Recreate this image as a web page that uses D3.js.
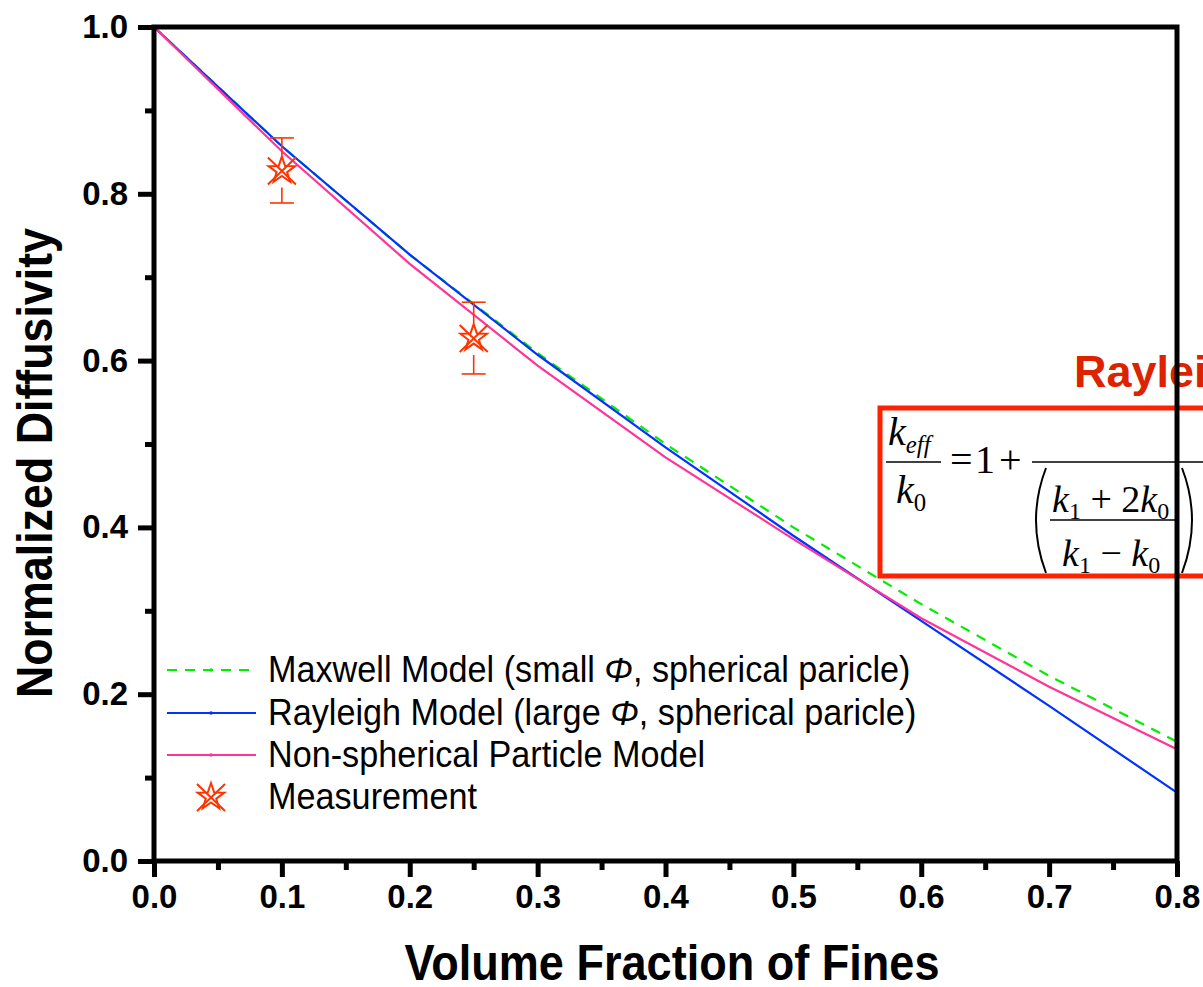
<!DOCTYPE html>
<html>
<head>
<meta charset="utf-8">
<script src="https://cdn.jsdelivr.net/npm/d3@7"></script>
<style>
  body { margin: 0; background: #fff; }
  svg { display: block; }
</style>
</head>
<body>
<div id="chart"></div>
<script>
// datos
const phi = [0, 0.1, 0.2, 0.3, 0.4, 0.5, 0.6, 0.7, 0.8];
const maxwell = [1.0, 0.857, 0.727, 0.609, 0.500, 0.400, 0.308, 0.222, 0.143];
const rayleigh = [1.0, 0.857, 0.727, 0.607, 0.496, 0.390, 0.288, 0.186, 0.082];
const nonSpherical = [1.0, 0.851, 0.716, 0.594, 0.484, 0.386, 0.291, 0.209, 0.134];
const measPhi = [0.1, 0.25];
const measVal = [0.828, 0.627];
const measErr = [0.039, 0.043];
const xTicks = [0, 0.1, 0.2, 0.3, 0.4, 0.5, 0.6, 0.7, 0.8];
const yTicks = [0, 0.2, 0.4, 0.6, 0.8, 1.0];
const legendLabels = [
  ["Maxwell Model (small ", "Φ", ", spherical paricle)"],
  ["Rayleigh Model (large ", "Φ", ", spherical paricle)"],
  ["Non-spherical Particle Model"],
  ["Measurement"]
];

const width = 1203, height = 987;
const svg = d3.select("#chart").append("svg")
  .attr("width", width).attr("height", height);

const x = d3.scaleLinear().domain([0, 0.8]).range([154, 1177]);
const y = d3.scaleLinear().domain([0, 1]).range([861, 27]);

const line = d3.line().x(d => x(d[0])).y(d => y(d[1]));
const sans = "'Liberation Sans', Arial, sans-serif";

// ecuacion en recuadro rojo (debajo del marco)
const eq = svg.append("g").attr("font-family", "'Liberation Serif', 'Times New Roman', serif").attr("fill", "#000");
eq.append("text").attr("x", 1074).attr("y", 387)
  .attr("font-family", sans).attr("font-weight", "bold")
  .attr("font-size", 45).attr("fill", "#dd2200").text("Rayleigh Model");
eq.append("rect").attr("x", 880).attr("y", 408).attr("width", 400).attr("height", 168)
  .attr("fill", "none").attr("stroke", "#ff2200").attr("stroke-width", 5);

function kSub(g, xx, yy, sub, size) {
  const t = g.append("text").attr("x", xx).attr("y", yy).attr("font-size", size);
  t.append("tspan").attr("font-style", "italic").text("k");
  t.append("tspan").attr("font-size", size * 0.62).attr("dy", size * 0.2)
    .attr("font-style", sub === "eff" ? "italic" : "normal").text(sub);
  return t;
}
kSub(eq, 888, 445, "eff", 40);
eq.append("line").attr("x1", 886).attr("x2", 941).attr("y1", 462).attr("y2", 462).attr("stroke", "#000").attr("stroke-width", 1.5);
kSub(eq, 896, 503, "0", 40);
const eqMid = eq.append("text").attr("y", 473).attr("font-size", 40);
eqMid.append("tspan").attr("x", 950).text("=");
eqMid.append("tspan").attr("x", 975).text("1");
eqMid.append("tspan").attr("x", 999).text("+");
eq.append("line").attr("x1", 1032).attr("x2", 1203).attr("y1", 462).attr("y2", 462).attr("stroke", "#000").attr("stroke-width", 1.5);
eq.append("path").attr("d", "M1046,468 Q1026,520 1046,573").attr("fill", "none").attr("stroke", "#000").attr("stroke-width", 2);
eq.append("path").attr("d", "M1182,468 Q1202,520 1182,573").attr("fill", "none").attr("stroke", "#000").attr("stroke-width", 2);
const num = eq.append("text").attr("x", 1052).attr("y", 512).attr("font-size", 38);
num.append("tspan").attr("font-style", "italic").text("k");
num.append("tspan").attr("font-size", 24).attr("dy", 7).text("1");
num.append("tspan").attr("dy", -7).text(" + 2");
num.append("tspan").attr("font-style", "italic").text("k");
num.append("tspan").attr("font-size", 24).attr("dy", 7).text("0");
eq.append("line").attr("x1", 1050).attr("x2", 1176).attr("y1", 520).attr("y2", 520).attr("stroke", "#000").attr("stroke-width", 1.5);
const den = eq.append("text").attr("x", 1062).attr("y", 566).attr("font-size", 38);
den.append("tspan").attr("font-style", "italic").text("k");
den.append("tspan").attr("font-size", 24).attr("dy", 7).text("1");
den.append("tspan").attr("dy", -7).text(" − ");
den.append("tspan").attr("font-style", "italic").text("k");
den.append("tspan").attr("font-size", 24).attr("dy", 7).text("0");

// curvas
const series = [
  { v: maxwell, color: "#00ee00", dash: "10,8" },
  { v: rayleigh, color: "#0033ff", dash: null },
  { v: nonSpherical, color: "#ff3399", dash: null }
];
series.forEach(s => {
  svg.append("path").datum(phi.map((p, i) => [p, s.v[i]]))
    .attr("d", line).attr("fill", "none")
    .attr("stroke", s.color).attr("stroke-width", 2.2)
    .attr("stroke-dasharray", s.dash);
});

// marcador: estrella de 5 puntas con una X encima
const starPts = d3.range(10).map(i => {
  const a = -Math.PI / 2 + i * Math.PI / 5, r = i % 2 ? 5.5 : 14;
  return [r * Math.cos(a), r * Math.sin(a)];
});
function drawStar(g, cx, cy) {
  const s = g.append("g").attr("transform", `translate(${cx},${cy})`)
    .attr("fill", "none").attr("stroke", "#ff3300").attr("stroke-width", 2);
  s.append("path").attr("d", "M" + starPts.join("L") + "Z");
  s.append("path").attr("d", "M-14,-13L14,14M14,-13L-14,14");
}

const meas = svg.append("g").attr("stroke", "#ff3300").attr("stroke-width", 1.6);
measPhi.forEach((p, i) => {
  const cx = x(p), cy = y(measVal[i]);
  const yt = y(measVal[i] + measErr[i]), yb = y(measVal[i] - measErr[i]);
  meas.append("line").attr("x1", cx).attr("x2", cx).attr("y1", yt).attr("y2", cy - 15);
  meas.append("line").attr("x1", cx).attr("x2", cx).attr("y1", cy + 17).attr("y2", yb);
  [yt, yb].forEach(yy => meas.append("line").attr("x1", cx - 12).attr("x2", cx + 12)
    .attr("y1", yy).attr("y2", yy));
  drawStar(svg, cx, cy);
});

// marco y ejes
const axisG = svg.append("g");
axisG.append("rect").attr("x", 154).attr("y", 27).attr("width", 1177 - 154).attr("height", 861 - 27)
  .attr("fill", "none").attr("stroke", "#000").attr("stroke-width", 5);

const xAxis = d3.axisBottom(x).tickValues(xTicks).tickFormat(d3.format(".1f")).tickSize(16).tickPadding(8);
axisG.append("g").attr("transform", "translate(0,861)").call(xAxis);
const xMinor = d3.axisBottom(x).tickValues(d3.range(0.05, 0.8, 0.1)).tickFormat("").tickSize(9);
axisG.append("g").attr("transform", "translate(0,861)").call(xMinor);

const yAxis = d3.axisLeft(y).tickValues(yTicks).tickFormat(d3.format(".1f")).tickSize(16).tickPadding(10);
axisG.append("g").attr("transform", "translate(154,0)").call(yAxis);
const yMinor = d3.axisLeft(y).tickValues(d3.range(0.1, 1.0, 0.2)).tickFormat("").tickSize(9);
axisG.append("g").attr("transform", "translate(154,0)").call(yMinor);

axisG.selectAll(".domain").remove();
axisG.selectAll(".tick line").attr("stroke", "#000").attr("stroke-width", 5);
axisG.selectAll(".tick text")
  .attr("font-family", sans)
  .attr("font-weight", "bold").attr("font-size", 33).attr("fill", "#000");

// titulos de ejes
svg.append("text").attr("x", 672).attr("y", 980).attr("text-anchor", "middle")
  .attr("font-family", sans).attr("font-weight", "bold")
  .attr("font-size", 50).attr("textLength", 535).attr("lengthAdjust", "spacingAndGlyphs")
  .text("Volume Fraction of Fines");
svg.append("text").attr("transform", "translate(52,463) rotate(-90)").attr("text-anchor", "middle")
  .attr("font-family", sans).attr("font-weight", "bold")
  .attr("font-size", 50).attr("textLength", 470).attr("lengthAdjust", "spacingAndGlyphs")
  .text("Normalized Diffusivity");

// leyenda
const leg = svg.append("g").attr("font-family", sans).attr("font-size", 36);
const legY = [670, 713, 755, 797];
series.forEach((s, i) => {
  leg.append("line").attr("x1", 167).attr("x2", 256).attr("y1", legY[i]).attr("y2", legY[i])
    .attr("stroke", s.color).attr("stroke-width", 2.2).attr("stroke-dasharray", s.dash);
  leg.append("circle").attr("cx", 211).attr("cy", legY[i]).attr("r", 1.8).attr("fill", s.color);
});
drawStar(leg, 211, legY[3]);
legendLabels.forEach((parts, i) => {
  const t = leg.append("text").attr("transform", `translate(268,${legY[i] + 12}) scale(0.95,1)`);
  parts.forEach((p, j) => t.append("tspan").attr("font-style", j === 1 ? "italic" : "normal").text(p));
});
</script>
</body>
</html>
